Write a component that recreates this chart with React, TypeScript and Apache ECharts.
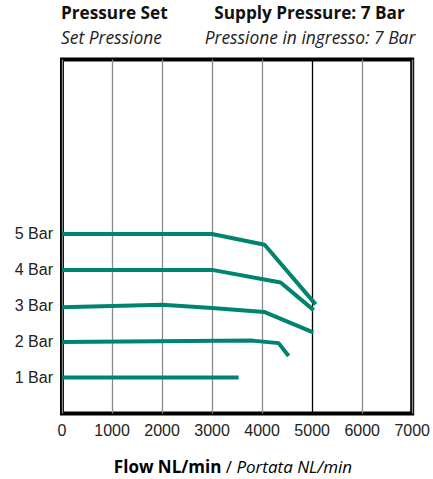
import React, { useEffect, useRef } from "react";
import * as echarts from "echarts";

const xTicks = [0, 1000, 2000, 3000, 4000, 5000, 6000, 7000];
const yLabels = ["1 Bar", "2 Bar", "3 Bar", "4 Bar", "5 Bar"];

const bar5: [number, number][] = [[0, 5], [3000, 5], [4050, 4.7], [5070, 3.04]];
const bar4: [number, number][] = [[0, 4], [3000, 4], [4370, 3.65], [5030, 2.88]];
const bar3: [number, number][] = [[0, 2.96], [2000, 3.03], [3000, 2.94], [4040, 2.83], [5020, 2.26]];
const bar2: [number, number][] = [[0, 1.99], [3800, 2.03], [4330, 1.96], [4530, 1.6]];
const bar1: [number, number][] = [[0, 1.0], [3530, 1.0]];

const seriesNames = ["5 Bar", "4 Bar", "3 Bar", "2 Bar", "1 Bar"];
const seriesData = [bar5, bar4, bar3, bar2, bar1];

const FONT = "Open Sans";

export default function App() {
  const ref = useRef<HTMLDivElement>(null);
  useEffect(() => {
    if (!ref.current) return;
    const chart = echarts.init(ref.current, null, { renderer: "svg" });
    const gridColors = xTicks.map((v) => (v === 5000 ? "#000000" : "#8a8a8a"));
    const bold = { fontFamily: FONT, fontWeight: "bold", fontSize: 17.2, lineHeight: 19, fill: "#111" };
    const ital = { fontFamily: FONT, fontStyle: "italic", fontWeight: "normal", fontSize: 17.4, lineHeight: 19, fill: "#222" };
    chart.setOption({
      animation: false,
      backgroundColor: "#ffffff",
      textStyle: { fontFamily: "Liberation Sans, Arial, sans-serif" },
      graphic: [
        { type: "text", x: 61, y: 12.5, style: { ...bold, text: "Pressure Set", verticalAlign: "middle" } },
        { type: "text", x: 61, y: 36.5, style: { ...ital, text: "Set Pressione", verticalAlign: "middle" } },
        { type: "text", x: 309.5, y: 12.5, style: { ...bold, text: "Supply Pressure: 7 Bar", align: "center", verticalAlign: "middle" } },
        { type: "text", x: 310, y: 36.5, style: { ...ital, text: "Pressione in ingresso: 7 Bar", align: "center", verticalAlign: "middle" } },
        {
          type: "text",
          x: 233,
          y: 466,
          style: {
            text: "{b|Flow NL/min}{n| / }{i|Portata NL/min}",
            align: "center",
            verticalAlign: "middle",
            rich: {
              b: { fontFamily: FONT, fontWeight: "bold", fontSize: 17, color: "#111" },
              n: { fontFamily: FONT, fontWeight: "normal", fontSize: 17, color: "#222" },
              i: { fontFamily: FONT, fontStyle: "italic", fontWeight: "normal", fontSize: 17, color: "#222" },
            },
          },
        },
      ],
      grid: {
        left: 62,
        right: 19,
        top: 59.5,
        bottom: 65.5,
        show: true,
        borderColor: "#000",
        borderWidth: 4,
        backgroundColor: "transparent",
      },
      xAxis: {
        type: "value",
        min: 0,
        max: 7000,
        interval: 1000,
        axisLine: { show: false },
        axisTick: { show: false },
        axisLabel: { fontSize: 16, color: "#222", margin: 9, formatter: (v: number) => String(v) },
        splitLine: { show: true, lineStyle: { color: gridColors, width: 1.3 } },
      },
      yAxis: {
        type: "value",
        min: 0,
        max: 9.86,
        interval: 1,
        axisLine: { show: false },
        axisTick: { show: false },
        splitLine: { show: false },
        axisLabel: {
          fontSize: 16,
          color: "#222",
          margin: 9,
          showMaxLabel: false,
          formatter: (v: number) => (v >= 1 && v <= 5 ? yLabels[v - 1] : ""),
        },
      },
      series: seriesData.map((d, i) => ({
        name: seriesNames[i],
        type: "line",
        data: d,
        symbol: "none",
        lineStyle: { color: "#00846f", width: 4 },
        z: 5,
      })),
    });
    return () => chart.dispose();
  }, []);
  return (
    <div
      ref={ref}
      style={{ position: "fixed", left: 0, top: 0, width: 433, height: 479 }}
    />
  );
}
